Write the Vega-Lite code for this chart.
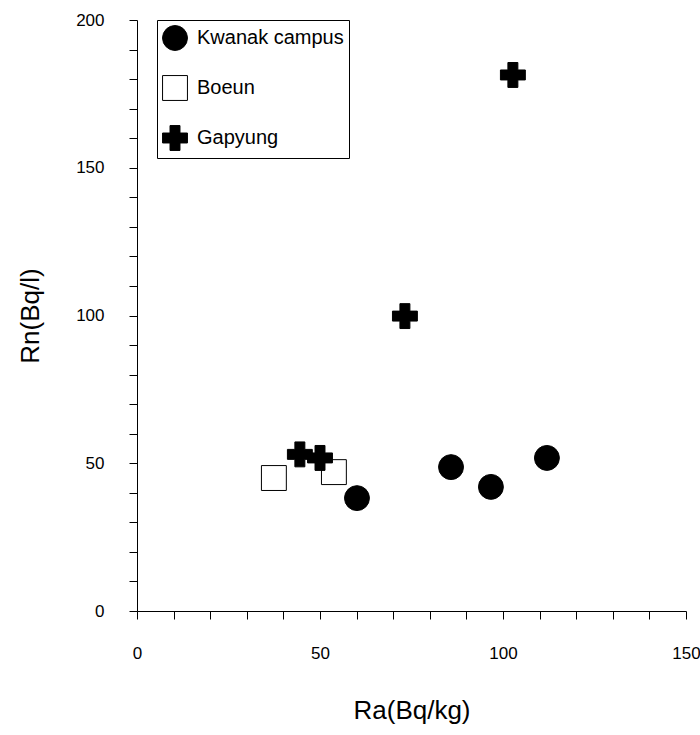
{
  "$schema": "https://vega.github.io/schema/vega-lite/v6.json",
  "width": 549,
  "height": 591,
  "autosize": "none",
  "padding": {"left": 137, "top": 20, "right": 14, "bottom": 124},
  "background": "white",
  "config": {
    "view": {"stroke": null},
    "font": "Liberation Sans",
    "axis": {
      "grid": false,
      "domainColor": "black",
      "tickColor": "black",
      "labelColor": "black",
      "titleColor": "black",
      "labelFont": "Liberation Sans",
      "titleFont": "Liberation Sans",
      "labelFontSize": 17,
      "titleFontSize": 26,
      "titleFontWeight": "normal",
      "tickSize": 8
    }
  },
  "data": {
    "values": [
      {"site": "Kwanak campus", "ra": 60.1, "rn": 38.2},
      {"site": "Kwanak campus", "ra": 85.8, "rn": 48.7},
      {"site": "Kwanak campus", "ra": 96.7, "rn": 42.0},
      {"site": "Kwanak campus", "ra": 112.0, "rn": 51.8},
      {"site": "Boeun", "ra": 37.4, "rn": 45.0},
      {"site": "Boeun", "ra": 53.8, "rn": 47.0},
      {"site": "Gapyung", "ra": 44.5, "rn": 53.0},
      {"site": "Gapyung", "ra": 50.0, "rn": 51.8},
      {"site": "Gapyung", "ra": 73.2, "rn": 99.8},
      {"site": "Gapyung", "ra": 102.7, "rn": 181.4}
    ]
  },
  "mark": {"type": "point", "strokeWidth": 1, "opacity": 1, "size": 620},
  "encoding": {
    "x": {
      "field": "ra", "type": "quantitative",
      "scale": {"domain": [0, 150], "nice": false, "zero": false},
      "axis": {
        "title": "Ra(Bq/kg)",
        "values": [0, 10, 20, 30, 40, 50, 60, 70, 80, 90, 100, 110, 120, 130, 140, 150],
        "labelExpr": "datum.value % 50 === 0 ? datum.label : ''",
        "labelPadding": 26,
        "titlePadding": 36,
        "labelFlush": false
      }
    },
    "y": {
      "field": "rn", "type": "quantitative",
      "scale": {"domain": [0, 200], "nice": false, "zero": false},
      "axis": {
        "title": "Rn(Bq/l)",
        "values": [0, 10, 20, 30, 40, 50, 60, 70, 80, 90, 100, 110, 120, 130, 140, 150, 160, 170, 180, 190, 200],
        "labelExpr": "datum.value % 50 === 0 ? datum.label : ''",
        "labelPadding": 25,
        "titlePadding": 32,
        "labelFlush": false
      }
    },
    "shape": {
      "field": "site", "type": "nominal",
      "scale": {"domain": ["Kwanak campus", "Boeun", "Gapyung"], "range": ["circle", "square", "cross"]},
      "legend": {
        "title": null,
        "orient": "none",
        "legendX": 20,
        "legendY": 0,
        "strokeColor": "black",
        "fillColor": "white",
        "padding": 5,
        "symbolSize": 620,
        "symbolStrokeWidth": 1,
        "labelFontSize": 20,
        "labelFont": "Liberation Sans",
        "labelColor": "black",
        "labelOffset": 9,
        "rowPadding": 20
      }
    },
    "fill": {
      "field": "site", "type": "nominal",
      "scale": {"domain": ["Kwanak campus", "Boeun", "Gapyung"], "range": ["black", "white", "black"]},
      "legend": null
    },
    "stroke": {
      "field": "site", "type": "nominal",
      "scale": {"domain": ["Kwanak campus", "Boeun", "Gapyung"], "range": ["black", "black", "black"]},
      "legend": null
    }
  }
}
